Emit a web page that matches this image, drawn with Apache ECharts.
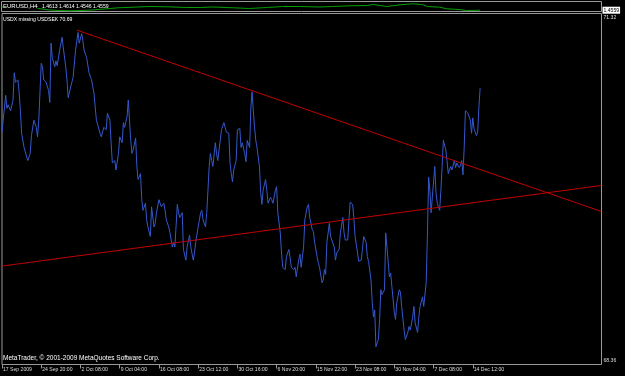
<!DOCTYPE html>
<html><head><meta charset="utf-8">
<script src="https://cdn.jsdelivr.net/npm/echarts@6/dist/echarts.min.js"></script>
<style>html,body{margin:0;padding:0;background:#000}#c{width:625px;height:376px}</style>
</head><body><div id="c"></div>
<script>
const dateLabels = ['17 Sep 2009','24 Sep 20:00','2 Oct 08:00','9 Oct 04:00','16 Oct 08:00','23 Oct 12:00','30 Oct 16:00','6 Nov 20:00','15 Nov 22:00','23 Nov 08:00','30 Nov 04:00','7 Dec 08:00','14 Dec 12:00'];
const barsPerLabel = 32;
const usdxBar = [0,3,4,5,7,9,10,11,13,14,15,16,18,21,23,24,26,28,29,30,32,33,34,36,38,39,40,41,43,44,45,47,49,50,52,53,54,56,57,58,60,62,63,65,66,67,69,71,73,75,77,80,81,83,85,86,88,89,90,92,93,95,96,98,99,100,102,103,105,106,107,109,110,111,113,114,115,117,118,119,121,122,124,125,126,128,130,132,133,134,136,137,139,140,141,143,144,145,147,148,150,151,153,154,156,157,158,160,162,163,164,166,167,168,169,170,171,172,174,175,176,178,179,181,182,183,185,186,187,188,189,191,192,194,195,196,198,199,200,202,203,204,205,206,207,208,210,211,212,213,215,216,217,219,220,221,223,224,225,227,228,229,231,232,234,235,236,238,239,240,242,243,244,246,247,249,250,251,253,254,255,257,258,259,261,262,263,264,265,267,268,269,271,272,273,275,276,278,279,280,282,283,284,286,287,288,290,291,293,294,295,297,298,299,301,302,303,304,305,306,307,308,309,310,312,313,314,316,317,318,320,321,322,324,325,326,328,329,331,332,333,335,336,337,339,340,341,343,344,346,347,348,349,350,351,353,354,355,357,358,359,360,362,363,364,366,367,369,370,371,373,374,375,376,377,378,379,380,382,383,384,385,386,387,388,389,390];
const usdxVal = [70.32,70.63,70.52,70.55,70.50,70.59,70.82,70.74,70.76,70.65,70.50,70.31,70.19,70.08,70.14,70.29,70.42,70.36,70.28,70.42,70.90,70.87,70.76,70.74,70.67,70.57,71.07,70.95,70.87,70.92,70.88,71.01,71.12,71.03,70.87,70.76,70.61,70.70,70.69,70.78,71.01,71.16,71.07,71.15,71.09,71.01,70.95,70.82,70.76,70.65,70.42,70.31,70.28,70.36,70.34,70.48,70.42,70.23,70.06,70.08,70.00,70.14,70.28,70.23,70.40,70.36,70.45,70.59,70.25,70.14,70.17,70.27,70.03,69.92,69.97,69.75,69.66,69.72,69.58,69.52,69.44,69.69,69.52,69.55,69.64,69.75,69.69,69.72,69.66,69.58,69.52,69.47,69.35,69.39,69.35,69.71,69.64,69.60,69.64,69.33,69.24,69.35,69.45,69.35,69.24,69.30,69.39,69.52,69.64,69.66,69.58,69.52,69.64,69.83,70.03,70.14,70.08,70.03,70.23,70.14,70.08,70.25,70.34,70.40,70.36,70.32,70.31,70.06,69.97,69.90,70.00,70.08,70.34,70.35,70.19,70.23,70.14,70.07,70.25,70.19,70.53,70.66,70.50,70.36,70.25,70.19,70.03,69.81,69.71,69.83,69.92,69.83,69.72,69.77,69.75,69.72,69.83,69.86,69.64,69.47,69.30,69.18,69.16,69.27,69.33,69.26,69.18,69.16,69.18,69.10,69.24,69.29,69.18,69.35,69.58,69.69,69.71,69.60,69.50,69.48,69.39,69.27,69.22,69.18,69.05,69.07,69.16,69.12,69.39,69.55,69.44,69.41,69.35,69.24,69.30,69.33,69.47,69.60,69.47,69.41,69.41,69.58,69.73,69.71,69.60,69.44,69.30,69.23,69.24,69.33,69.44,69.39,69.27,69.23,69.07,68.88,68.76,68.82,68.51,68.50,68.57,68.74,68.99,68.95,68.99,69.47,69.35,69.10,69.13,69.02,68.80,68.74,68.88,68.99,68.97,68.85,68.65,68.57,68.63,68.68,68.65,68.76,68.85,68.71,68.63,68.76,68.85,68.93,68.85,69.05,69.45,69.94,69.83,69.64,69.77,70.03,69.81,69.72,69.66,69.83,70.03,70.25,70.17,70.08,69.97,70.03,70.00,70.08,70.02,70.06,70.02,70.04,70.08,69.96,70.19,70.50,70.49,70.48,70.42,70.31,70.44,70.35,70.32,70.29,70.32,70.53,70.69];
const eurBar = [0,11,23,33,39,48,56,64,74,84,95,107,121,135,151,162,172,189,202,216,229,243,259,270,284,298,303,314,325,335,343,347,357,363,373,379,388,390];
const eurVal = [1.4833,1.4875,1.4790,1.4663,1.4578,1.4535,1.4510,1.4535,1.4578,1.4663,1.4765,1.4816,1.4875,1.4850,1.4790,1.4790,1.4833,1.4765,1.4705,1.4790,1.4875,1.4875,1.4833,1.4875,1.4935,1.4960,1.5045,1.4875,1.5020,1.5105,1.5045,1.4875,1.4816,1.4680,1.4620,1.4535,1.4552,1.4559];
const trendABars = [61, 489];
const trendAVals = [71.18, 69.65];
const trendBBars = [0, 489];
const trendBVals = [69.19, 69.87];
const usdxAxis = [68.36, 71.32];

const pairs = (xs, ys) => xs.map((x, i) => [x, ys[i]]);
const labelBars = dateLabels.map((_, i) => i * barsPerLabel);
const F = 'Liberation Sans';
const S = 5.1;
const ts = (size) => ({color: '#fff', fontSize: size, fontWeight: 'normal', fontFamily: F});
const chart = echarts.init(document.getElementById('c'));
chart.setOption({
  animation: false,
  backgroundColor: '#000',
  title: [
    {text: 'EURUSD,H4', left: 3, top: 3.5, padding: 0, backgroundColor: '#000', textStyle: ts(6)},
    {text: '1.4613 1.4614 1.4546 1.4559', left: 42, top: 4, padding: 0, textStyle: ts(S)},
    {text: 'USDX missing USDSEK 70.69', left: 3, top: 17, padding: 0, textStyle: ts(S)},
    {text: 'MetaTrader, © 2001-2009 MetaQuotes Software Corp.', left: 3, top: 355, padding: 0, textStyle: ts(6.5)}
  ],
  grid: [
    {left: 1.5, top: 1.5, width: 600, height: 10, show: true, borderColor: '#999', borderWidth: 1, backgroundColor: '#000'},
    {left: 1.5, top: 13.5, width: 600, height: 351, show: true, borderColor: '#999', borderWidth: 1, backgroundColor: '#000'}
  ],
  xAxis: [
    {gridIndex: 0, type: 'value', min: 0, max: 489, show: false},
    {gridIndex: 1, type: 'value', min: 0, max: 489, interval: barsPerLabel,
     splitLine: {show: false}, axisLine: {show: false},
     axisTick: {show: true, customValues: labelBars, length: 4, lineStyle: {color: '#999'}},
     axisLabel: {customValues: labelBars, formatter: v => dateLabels[Math.round(v / barsPerLabel)] || '',
       color: '#ddd', fontSize: S, fontFamily: F, align: 'left', margin: 3, padding: [0, 0, 0, 1]}}
  ],
  yAxis: [
    {gridIndex: 0, type: 'value', min: 1.445, max: 1.530, position: 'right',
     splitLine: {show: false}, axisLine: {show: false}, axisTick: {show: false},
     axisLabel: {customValues: [eurVal[eurVal.length - 1]], formatter: v => v.toFixed(4),
       color: '#000', backgroundColor: '#fff', padding: [1, 1, 1, 1], margin: 1, fontSize: S, fontFamily: F}},
    {gridIndex: 1, type: 'value', min: usdxAxis[0], max: usdxAxis[1], position: 'right',
     splitLine: {show: false}, axisLine: {show: false}, axisTick: {show: false},
     axisLabel: {customValues: usdxAxis, margin: 2, color: '#ddd', fontSize: S, fontFamily: F,
       formatter: v => (v > 70 ? '{t|' : '{b|') + v.toFixed(2) + '}',
       rich: {t: {padding: [8, 0, 0, 0], fontSize: S, color: '#ddd', fontFamily: F},
              b: {padding: [0, 0, 7, 0], fontSize: S, color: '#ddd', fontFamily: F}}}}
  ],
  series: [
    {type: 'line', xAxisIndex: 0, yAxisIndex: 0, data: pairs(eurBar, eurVal), symbol: 'none', lineStyle: {color: '#00a000', width: 1}},
    {type: 'line', xAxisIndex: 1, yAxisIndex: 1, data: pairs(usdxBar, usdxVal), symbol: 'none', lineStyle: {color: '#3558cc', width: 1}},
    {type: 'line', xAxisIndex: 1, yAxisIndex: 1, data: pairs(trendABars, trendAVals), symbol: 'none', lineStyle: {color: '#c00000', width: 1}},
    {type: 'line', xAxisIndex: 1, yAxisIndex: 1, data: pairs(trendBBars, trendBVals), symbol: 'none', lineStyle: {color: '#c00000', width: 1}}
  ]
});
</script></body></html>
